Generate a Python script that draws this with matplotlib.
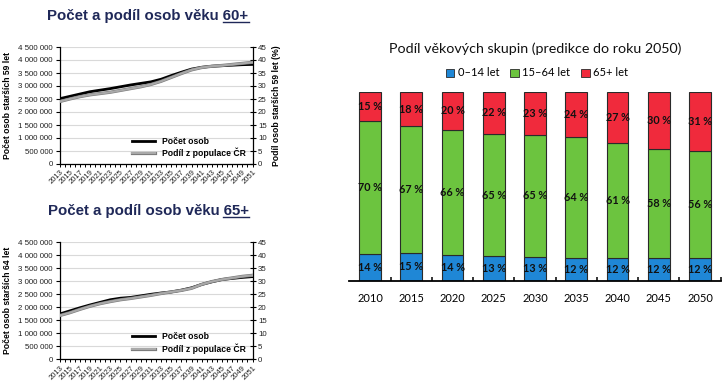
import matplotlib
matplotlib.use("Agg")
import matplotlib.pyplot as plt
import matplotlib.patheffects as pe
from matplotlib.lines import Line2D
from matplotlib.patches import Patch
from matplotlib.ticker import FuncFormatter, MultipleLocator
import numpy as np

# --- data ---
years = list(range(2013, 2052, 2))

pocet_60 = [2510000, 2600000, 2690000, 2780000, 2840000, 2900000, 2970000,
            3040000, 3100000, 3160000, 3260000, 3400000, 3530000, 3650000,
            3720000, 3760000, 3780000, 3800000, 3820000, 3830000]
podil_60 = [24.0, 25.0, 25.9, 26.6, 27.1, 27.6, 28.3, 29.0, 29.7, 30.6,
            31.8, 33.3, 34.8, 36.2, 37.1, 37.6, 37.9, 38.3, 38.7, 39.1]

pocet_65 = [1740000, 1860000, 1980000, 2090000, 2190000, 2290000, 2350000,
            2380000, 2440000, 2500000, 2550000, 2590000, 2660000, 2750000,
            2880000, 2980000, 3070000, 3110000, 3150000, 3180000]
podil_65 = [16.8, 17.9, 19.2, 20.4, 21.4, 22.2, 22.9, 23.4, 24.0, 24.6,
            25.3, 25.9, 26.5, 27.3, 28.8, 29.9, 30.7, 31.3, 31.9, 32.3]

bar_years = ["2010", "2015", "2020", "2025", "2030", "2035", "2040", "2045", "2050"]
age_0_14 = [14, 15, 14, 13, 13, 12, 12, 12, 12]
age_15_64 = [70, 67, 66, 65, 65, 64, 61, 58, 56]
age_65 = [15, 18, 20, 22, 23, 24, 27, 30, 31]

W, H = 728, 382
fig = plt.figure(figsize=(W / 100, H / 100), dpi=100)

ARIAL = "Liberation Sans"
NAVY = "#1f2858"


def fmt_space(v, pos):
    return f"{int(v):,}".replace(",", " ")


def line_chart(rect, pocet, podil, ylabel, rlabel):
    ax = fig.add_axes(rect)
    ax2 = ax.twinx()

    l1, = ax.plot(years, pocet, color="black", lw=2.0, zorder=3)
    l2, = ax2.plot(years, podil, color="#a9a9a9", lw=1.5, zorder=3,
                   path_effects=[pe.Stroke(linewidth=2.3, foreground="#7a7a7a"), pe.Normal()])

    ax.set_xlim(2013, 2051)
    ax.set_ylim(0, 4500000)
    ax2.set_ylim(0, 45)
    ax.yaxis.set_major_locator(MultipleLocator(500000))
    ax.yaxis.set_major_formatter(FuncFormatter(fmt_space))
    ax2.yaxis.set_major_locator(MultipleLocator(5))
    ax.set_xticks(years)
    ax.set_xticklabels([str(y) for y in years], rotation=45, ha="right",
                       rotation_mode="anchor")
    ax.xaxis.set_minor_locator(MultipleLocator(1))
    ax.grid(axis="y", color="#d9d9d9", lw=0.8)
    ax.set_axisbelow(True)

    for a in (ax, ax2):
        a.spines["top"].set_visible(False)
        for s in a.spines.values():
            s.set_linewidth(0.9)
    ax.spines["right"].set_visible(False)
    ax2.spines["left"].set_visible(False)
    ax2.spines["bottom"].set_visible(False)

    ax.tick_params(axis="y", labelsize=5.7, length=3, width=0.8, pad=2, labelcolor="#222222")
    ax.tick_params(axis="x", which="both", labelsize=5.5, length=2.5, width=0.7, pad=1,
                   labelcolor="#222222")
    ax2.tick_params(axis="y", labelsize=5.7, length=4, width=0.8, pad=2, direction="inout",
                    labelcolor="#222222")
    for lab in ax.get_xticklabels() + ax.get_yticklabels() + ax2.get_yticklabels():
        lab.set_fontfamily(ARIAL)

    ax.set_ylabel(ylabel, fontsize=6.2, fontweight="bold", family=ARIAL, labelpad=4)
    if rlabel:
        ax2.set_ylabel(rlabel, fontsize=6.2, fontweight="bold", family=ARIAL, labelpad=4)

    ax.legend([l1, l2], ["Počet osob", "Podíl z populace ČR"], loc="lower left",
              bbox_to_anchor=(0.36, 0.02), frameon=False, borderaxespad=0,
              handlelength=2.6, handletextpad=0.8, labelspacing=0.25,
              prop=dict(family=ARIAL, weight="bold", size=6.2))
    return ax


line_chart([59.5 / W, 1 - 164 / H, 193 / W, 117 / H], pocet_60, podil_60,
           "Počet osob starších 59 let", "Podíl osob starších 59 let (%)")
line_chart([59.5 / W, 1 - 359.3 / H, 193 / W, 117 / H], pocet_65, podil_65,
           "Počet osob starších 64 let", None)

titles = []
for main, under, ypx in [("Počet a podíl osob věku ", "60+", 16),
                         ("Počet a podíl osob věku ", "65+", 211)]:
    t = fig.text(148 / W, 1 - ypx / H, main + under, ha="center", va="center",
                 fontsize=10.8, fontweight="bold", family=ARIAL, color=NAVY)
    titles.append((t, under))

# --- stacked bars ---
bx = fig.add_axes([349.4 / W, 1 - 281 / H, 371.3 / W, 189 / H])
xs = np.arange(len(bar_years))
tot = np.array(age_0_14) + np.array(age_15_64) + np.array(age_65)
groups = [(age_0_14, "#1f87d6", "0–14 let"),
          (age_15_64, "#6cc43f", "15–64 let"),
          (age_65, "#f02a3c", "65+ let")]
bottom = np.zeros(len(xs))
for vals, col, name in groups:
    h = 100 * np.array(vals) / tot
    bx.bar(xs, h, bottom=bottom, width=0.525, color=col, edgecolor="#2a2a2a", lw=0.8)
    for xi, b, hi, v in zip(xs, bottom, h, vals):
        bx.text(xi, b + hi / 2, f"{v} %", ha="center", va="center",
                fontsize=7.8, fontweight="bold", family="Lato", color="#111111")
    bottom = bottom + h

bx.set_xlim(-0.5, len(xs) - 0.5)
bx.set_ylim(0, 100)
for s in ("left", "right", "top"):
    bx.spines[s].set_visible(False)
bx.spines["bottom"].set_linewidth(1.3)
bx.set_yticks([])
bx.set_xticks(xs)
bx.set_xticklabels(bar_years, fontsize=8, family="Lato")
bx.tick_params(axis="x", which="major", length=0, pad=9)
bx.set_xticks(xs + 0.5, minor=True)
bx.tick_params(axis="x", which="minor", direction="in", length=3, width=1.1)

fig.text(535 / W, 1 - 49 / H, "Podíl věkových skupin (predikce do roku 2050)",
         ha="center", va="center", fontsize=10.3, family="Lato", color="#111111")
handles = [Patch(facecolor=c, edgecolor="#2a2a2a", lw=0.6, label=n) for _, c, n in groups]
fig.legend(handles=handles, loc="center", bbox_to_anchor=(537 / W, 1 - 73 / H),
           ncol=3, frameon=False, handlelength=0.75, handleheight=0.75,
           handletextpad=0.3, columnspacing=1.0, prop=dict(family="Lato", size=8))

# underline the age part of the left titles
fig.canvas.draw()
rend = fig.canvas.get_renderer()
for t, under in titles:
    bb = t.get_window_extent(rend)
    tmp = fig.text(0, 0, under, fontsize=10.8, fontweight="bold", family=ARIAL)
    w = tmp.get_window_extent(rend).width
    tmp.remove()
    yline = bb.y0 + 1.5
    fig.add_artist(Line2D([(bb.x1 - w) / W, bb.x1 / W], [yline / H, yline / H],
                          color=NAVY, lw=1.0))

fig.savefig("out.png", dpi=100)
